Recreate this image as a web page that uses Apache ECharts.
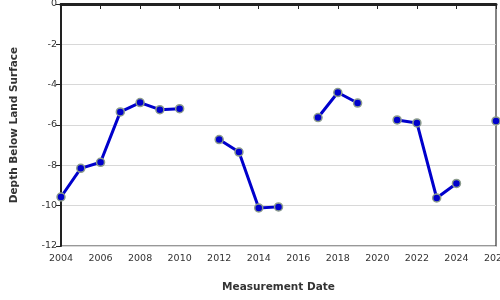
<!DOCTYPE html>
<html>
<head>
<meta charset="utf-8">
<script src="https://cdn.jsdelivr.net/npm/echarts@6/dist/echarts.min.js"></script>
<style>html,body{margin:0;padding:0;background:#fff;}#c{width:500px;height:300px;}</style>
</head>
<body>
<div id="c"></div>
<script>
const years = [2004,2005,2006,2007,2008,2009,2010,2011,2012,2013,2014,2015,2016,2017,2018,2019,2020,2021,2022,2023,2024,2025,2026];
const depths = [-9.57,-8.15,-7.85,-5.35,-4.89,-5.24,-5.19,null,-6.72,-7.34,-10.11,-10.06,null,-5.63,-4.39,-4.91,null,-5.75,-5.90,-9.62,-8.90,null,-5.80];
const xTicks = [2004,2006,2008,2010,2012,2014,2016,2018,2020,2022,2024,2026];
const yTicks = [0,-2,-4,-6,-8,-10,-12];

const chart = echarts.init(document.getElementById('c'), null, {renderer:'canvas'});
const font = 'DejaVu Sans';
chart.setOption({
  animation:false,
  backgroundColor:'#fff',
  grid:{left:61,right:4,top:4,bottom:54,show:true,borderColor:'#333',borderWidth:1.2,backgroundColor:'transparent',outerBoundsMode:'none',containLabel:false},
  xAxis:{
    type:'value', min:xTicks[0], max:xTicks[xTicks.length-1], interval:2,
    name:'Measurement Date', nameLocation:'middle', nameGap:36,
    nameTextStyle:{fontFamily:font,fontSize:10.5,fontWeight:'bold',color:'#333'},
    axisLine:{lineStyle:{color:'#222',width:3}},
    axisTick:{show:true,length:5,lineStyle:{color:'#222',width:1}},
    axisLabel:{fontFamily:font,fontSize:9.5,color:'#333',margin:8,formatter:v=>String(v),showMinLabel:true,showMaxLabel:true,hideOverlap:false},
    splitLine:{show:false}
  },
  yAxis:{
    type:'value', min:yTicks[yTicks.length-1], max:yTicks[0], interval:2,
    name:'Depth Below Land Surface', nameLocation:'middle', nameGap:41,
    nameTextStyle:{fontFamily:font,fontSize:10.5,fontWeight:'bold',color:'#333'},
    axisLine:{show:true,lineStyle:{color:'#222',width:2}},
    axisTick:{show:true,length:5,lineStyle:{color:'#222',width:1}},
    axisLabel:{fontFamily:font,fontSize:9.5,color:'#333',margin:4},
    splitLine:{show:true,lineStyle:{color:'#d8d8d8',width:1}}
  },
  series:[{
    type:'line',
    data:years.map((y,i)=>[y, depths[i]===null?'-':depths[i]]),
    connectNulls:false,
    clip:false,
    lineStyle:{color:'#0000cc',width:3},
    symbol:'circle', symbolSize:8,
    itemStyle:{color:'#0000cc',borderColor:'#8c9c8c',borderWidth:1.5},
    showAllSymbol:true
  }]
});
</script>
</body>
</html>
